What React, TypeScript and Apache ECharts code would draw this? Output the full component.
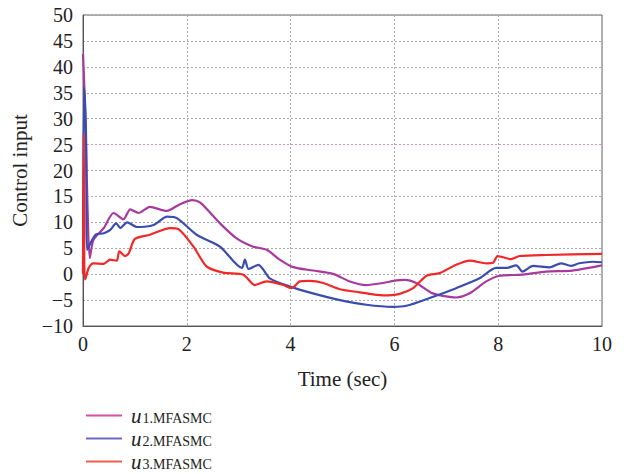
import React, { useEffect, useRef } from "react";
import * as echarts from "echarts";

const u1T = [0, 0.03, 0.06, 0.09, 0.13, 0.2, 0.4, 0.59, 0.78, 0.91, 1.07, 1.29, 1.61, 1.87, 2.1, 2.26, 2.64, 2.96, 3.28, 3.54, 3.79, 4.05, 4.43, 4.82, 5.14, 5.46, 5.78, 6.04, 6.2, 6.42, 6.74, 7.19, 7.45, 7.77, 8.02, 8.47, 8.92, 9.43, 10];
const u1V = [42.5, 35, 24, 12, 3.1, 6.6, 8.9, 11.8, 10.6, 12.5, 11.8, 13.0, 12.2, 13.5, 14.3, 13.8, 9.8, 6.9, 5.3, 4.7, 2.8, 1.35, 0.7, 0.05, -1.4, -2.1, -1.7, -1.2, -1.1, -1.7, -3.7, -4.5, -3.7, -1.4, -0.3, -0.1, 0.5, 0.7, 1.7];

const u2T = [0, 0.02, 0.04, 0.06, 0.08, 0.24, 0.4, 0.52, 0.64, 0.72, 0.85, 1.04, 1.36, 1.62, 1.81, 2.19, 2.64, 3.06, 3.12, 3.19, 3.38, 3.6, 3.99, 4.43, 4.95, 5.46, 5.97, 6.23, 6.68, 7.19, 7.64, 7.96, 8.15, 8.35, 8.47, 8.67, 8.99, 9.21, 9.4, 9.56, 9.82, 10];
const u2V = [0.5, 36, 33, 26, 4.7, 7.6, 7.9, 8.5, 9.8, 8.9, 10.0, 9.1, 9.5, 11.1, 10.8, 7.6, 5.3, 1.2, 2.8, 1.0, 1.8, -0.8, -2.4, -3.7, -5.0, -5.9, -6.3, -6.1, -4.6, -2.7, -0.8, 1.2, 1.2, 1.7, 0.5, 1.6, 1.3, 2.1, 1.6, 2.1, 2.4, 2.3];

const u3T = [0, 0.015, 0.03, 0.05, 0.11, 0.2, 0.4, 0.52, 0.65, 0.7, 0.81, 0.88, 1.0, 1.29, 1.68, 1.84, 2.13, 2.38, 2.7, 3.09, 3.31, 3.54, 3.86, 4.02, 4.18, 4.37, 4.63, 4.95, 5.33, 5.78, 6.1, 6.36, 6.62, 6.87, 7.19, 7.45, 7.77, 7.9, 7.99, 8.25, 8.41, 8.92, 10];
const u3V = [0, 27, -1, -0.8, 1.2, 2.1, 2.0, 2.8, 2.6, 4.4, 3.5, 4.0, 6.8, 7.6, 8.9, 8.7, 5.3, 1.5, 0.3, -0.1, -2.1, -1.4, -2.1, -2.7, -1.4, -1.3, -1.7, -2.9, -3.5, -4.1, -3.8, -2.7, -0.3, 0.2, 1.8, 2.6, 2.1, 2.2, 3.5, 2.9, 3.5, 3.7, 3.9];

const seriesNames = ["u1", "u2", "u3"];
const subscripts = ["1.MFASMC", "2.MFASMC", "3.MFASMC"];
const lineColors = ["#a83a9e", "#3b4cb0", "#f0282a"];
const legendColors = ["#d4509f", "#6c68c0", "#f0604c"];

const FONT = "Liberation Serif";

function pairs(t: number[], v: number[]) {
  return t.map((x, i) => [x, v[i]]);
}

export default function App() {
  const ref = useRef<HTMLDivElement>(null);
  useEffect(() => {
    if (!ref.current) return;
    const chart = echarts.init(ref.current, null, { renderer: "svg" });
    const data = [pairs(u1T, u1V), pairs(u2T, u2V), pairs(u3T, u3V)];
    const gridColors = Array.from({ length: 13 }, (_, i) => (i === 7 ? "#d98cc4" : "#a8a8a8"));
    chart.setOption({
      animation: false,
      backgroundColor: "#ffffff",
      textStyle: { fontFamily: FONT },
      grid: {
        left: 83,
        right: 22,
        top: 15,
        bottom: 148,
        containLabel: false,
        outerBoundsMode: "none",
        show: true,
        borderColor: "#666",
        borderWidth: 1,
      },
      legend: {
        orient: "vertical",
        left: 81,
        top: 400,
        height: 74,
        itemWidth: 36,
        itemHeight: 14,
        itemGap: 2,
        icon: "path://M0,0 L36,0 L36,2 L0,2 Z",
        data: seriesNames.map((n, i) => ({
          name: n,
          itemStyle: { color: legendColors[i] },
        })),
        formatter: (name: string) => {
          const i = seriesNames.indexOf(name);
          return `{i|u}{s|${subscripts[i]}}`;
        },
        textStyle: {
          fontFamily: FONT,
          rich: {
            i: {
              fontFamily: FONT,
              fontStyle: "italic",
              fontSize: 21,
              color: "#222",
              padding: [0, 0, 0, 4],
              lineHeight: 22,
            },
            s: {
              fontFamily: FONT,
              fontSize: 14,
              color: "#222",
              padding: [6, 0, 0, 1],
              lineHeight: 22,
            },
          },
        },
      },
      xAxis: {
        type: "value",
        min: 0,
        max: 10,
        interval: 2,
        name: "Time (sec)",
        nameLocation: "middle",
        nameGap: 42,
        nameTextStyle: { fontFamily: FONT, fontSize: 21, color: "#222" },
        axisLine: { show: true, onZero: false, lineStyle: { color: "#555", width: 1 } },
        axisTick: { show: false },
        axisLabel: { fontFamily: FONT, fontSize: 20, color: "#222", margin: 8 },
        splitLine: { show: true, lineStyle: { color: "#a8a8a8", type: [2, 2], width: 1 } },
      },
      yAxis: {
        type: "value",
        min: -10,
        max: 50,
        interval: 5,
        name: "Control input",
        nameLocation: "middle",
        nameGap: 47,
        nameTextStyle: { fontFamily: FONT, fontSize: 21, color: "#222" },
        axisLine: { show: true, onZero: false, lineStyle: { color: "#555", width: 1 } },
        axisTick: { show: false },
        axisLabel: {
          fontFamily: FONT,
          fontSize: 20,
          color: "#222",
          margin: 10,
          formatter: (v: number) => String(v).replace("-", "\u2212"),
        },
        splitLine: { show: true, lineStyle: { color: gridColors, type: [2, 2], width: 1 } },
      },
      series: seriesNames.map((n, i) => ({
        name: n,
        type: "line",
        data: data[i],
        symbol: "none",
        smooth: 0.25,
        lineStyle: { color: lineColors[i], width: 2.2 },
        itemStyle: { color: lineColors[i] },
      })),
    });
    return () => chart.dispose();
  }, []);
  return <div ref={ref} style={{ width: 624, height: 474, marginTop: -8, marginLeft: -8 }} />;
}
